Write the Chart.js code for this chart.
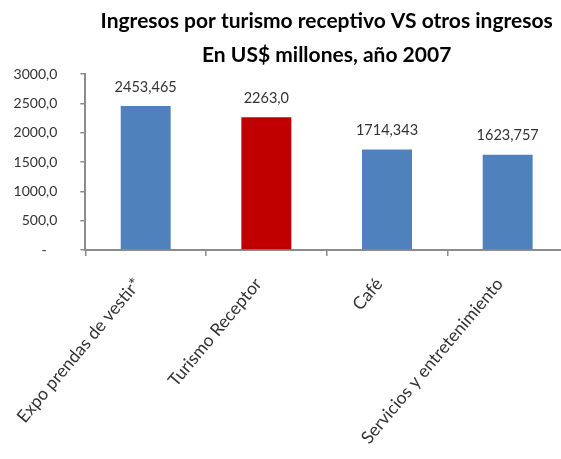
<!DOCTYPE html>
<html>
<head>
<meta charset="utf-8">
<script src="https://cdn.jsdelivr.net/npm/chart.js@4.4.1/dist/chart.umd.min.js"></script>
<style>
  html, body { margin: 0; padding: 0; background: #fff; overflow: hidden; }
  #wrap { position: relative; width: 580px; height: 459px; }
</style>
</head>
<body>
<div id="wrap"><canvas id="chart"></canvas></div>
<script>
// ─── Data ──────────────────────────────────────────────────────────────────
const categories  = ['Expo prendas de vestir*', 'Turismo Receptor', 'Café', 'Servicios y entretenimiento'];
const values      = [2453.465, 2263.0, 1714.343, 1623.757];
const valueLabels = ['2453,465', '2263,0', '1714,343', '1623,757'];
const barColors   = ['#4F81BD', '#C00000', '#4F81BD', '#4F81BD'];
const yTickLabels = ['-', '500,0', '1000,0', '1500,0', '2000,0', '2500,0', '3000,0'];
const titleLines  = ['Ingresos por turismo receptivo VS otros ingresos', 'En US$ millones, año 2007'];

const FONT = 'Lato, "Open Sans", sans-serif';
const AXIS = '#8C8C8C';
const TEXT = '#333333';

// ─── Title, centred over the plot area ─────────────────────────────────────
const titlePlugin = {
  id: 'plotTitle',
  afterDraw(chart) {
    const { ctx, chartArea } = chart;
    const cx = (chartArea.left + chartArea.right) / 2;
    ctx.save();
    ctx.font = 'bold 21px ' + FONT;
    ctx.fillStyle = '#000';
    ctx.textAlign = 'center';
    ctx.textBaseline = 'alphabetic';
    titleLines.forEach((t, i) => ctx.fillText(t, cx, 28 + i * 34));
    ctx.restore();
  }
};

// ─── Values above each bar ─────────────────────────────────────────────────
const valueLabelPlugin = {
  id: 'valueLabels',
  afterDatasetsDraw(chart) {
    const { ctx } = chart;
    const meta = chart.getDatasetMeta(0);
    ctx.save();
    ctx.font = '14.5px ' + FONT;
    ctx.fillStyle = TEXT;
    ctx.textAlign = 'center';
    ctx.textBaseline = 'middle';
    meta.data.forEach((bar, i) => ctx.fillText(valueLabels[i], bar.x, bar.y - 19));
    ctx.restore();
  }
};

new Chart(document.getElementById('chart'), {
  type: 'bar',
  data: {
    labels: categories,
    datasets: [{
      data: values,
      backgroundColor: barColors,
      borderWidth: 0,
      barPercentage: 0.414,
      categoryPercentage: 1.0,
    }]
  },
  options: {
    responsive: true, maintainAspectRatio: false, animation: false,
    layout: { padding: { left: 0, right: 12, top: 74, bottom: 0 } },
    plugins: {
      legend: { display: false },
      tooltip: { enabled: false },
      title: { display: false },
    },
    scales: {
      x: {
        afterFit: s => { s.height = 209; },
        grid: { display: true, drawOnChartArea: false, color: AXIS, tickLength: 6, offset: true, lineWidth: 1.5 },
        border: { color: AXIS, width: 2 },
        ticks: {
          color: TEXT, font: { family: FONT, size: 17.5 },
          minRotation: 50, maxRotation: 50, padding: 18, labelOffset: -8, autoSkip: false,
        },
      },
      y: {
        min: 0, max: 3000,
        afterFit: s => { s.width = 85; },
        grid: { display: true, drawOnChartArea: false, color: AXIS, tickLength: 5, lineWidth: 1.5 },
        border: { color: AXIS, width: 2 },
        ticks: {
          stepSize: 500, color: TEXT, font: { family: FONT, size: 14 }, padding: 23,
          callback: (v, i) => yTickLabels[i] === '-' ? '-   ' : yTickLabels[i],
        },
      },
    },
  },
  plugins: [titlePlugin, valueLabelPlugin],
});
</script>
</body>
</html>
